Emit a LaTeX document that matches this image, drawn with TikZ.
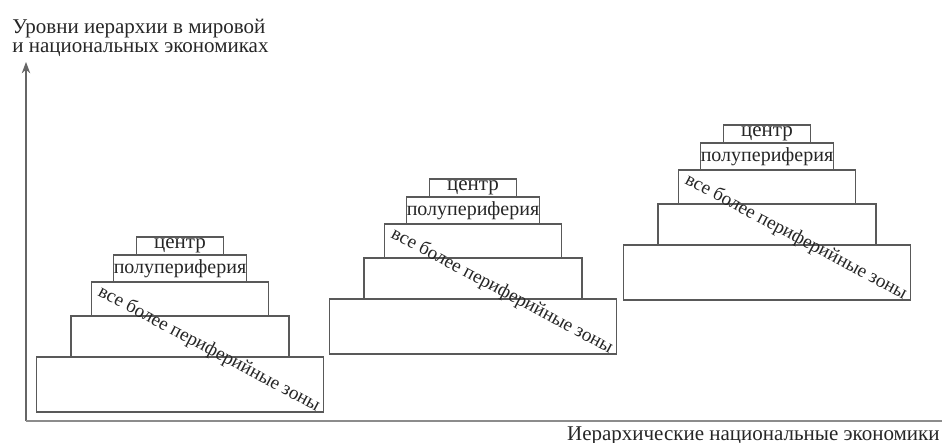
\documentclass[tikz,border=0pt]{standalone}
\usepackage{fontspec}
\setmainfont{Liberation Serif}
\usetikzlibrary{arrows.meta}
\tikzset{>=Stealth}

\begin{document}
\begin{tikzpicture}[x=0.5pt,y=-0.5pt,
  tier/.style={draw=black!65,line width=0.6pt,inner sep=0pt,text=black!85},
  lbl/.style={text=black!85,inner sep=0pt,font=\fontsize{10.5}{9.5}\selectfont}]
\useasboundingbox (0,0) rectangle (942,443);
\coordinate (O) at (26,421);
\coordinate (Y) at (26,62);
\coordinate (X) at (942,421);
\draw[black!60,line width=0.6pt,->] (O) -- (Y);
\draw[black!45,line width=1pt] (O) -- (X);
\node[lbl,anchor=north west,align=left] (ylab) at (12,19) {Уровни иерархии в мировой\\и национальных экономиках};
\node[lbl,anchor=base east] (xlab) at (940,440) {Иерархические национальные экономики};
\foreach \i/\dx/\dy in {1/0/0,2/293/-58,3/587/-112}{
\begin{scope}[shift={(\dx,\dy)}]
\node[tier,minimum width=287*0.5pt,minimum height=55*0.5pt] (b\i) at (180,384.5) {};
\node[tier,minimum width=218*0.5pt,minimum height=41*0.5pt] (m\i) at (180,336.5) {};
\node[tier,minimum width=177*0.5pt,minimum height=34*0.5pt] (u\i) at (180,299) {};
\node[tier,minimum width=133*0.5pt,minimum height=27*0.5pt,font=\fontsize{10}{12}\selectfont] (p\i) at (180,268.5) {полупериферия};
\node[tier,minimum width=87*0.5pt,minimum height=18*0.5pt,font=\fontsize{10.5}{12}\selectfont] (c\i) at (180,246) {центр};
\node[lbl,rotate=-28,font=\fontsize{9.6}{11}\selectfont] (z\i) at (209,349) {все более периферийные зоны};
\end{scope}}
\end{tikzpicture}
\end{document}
